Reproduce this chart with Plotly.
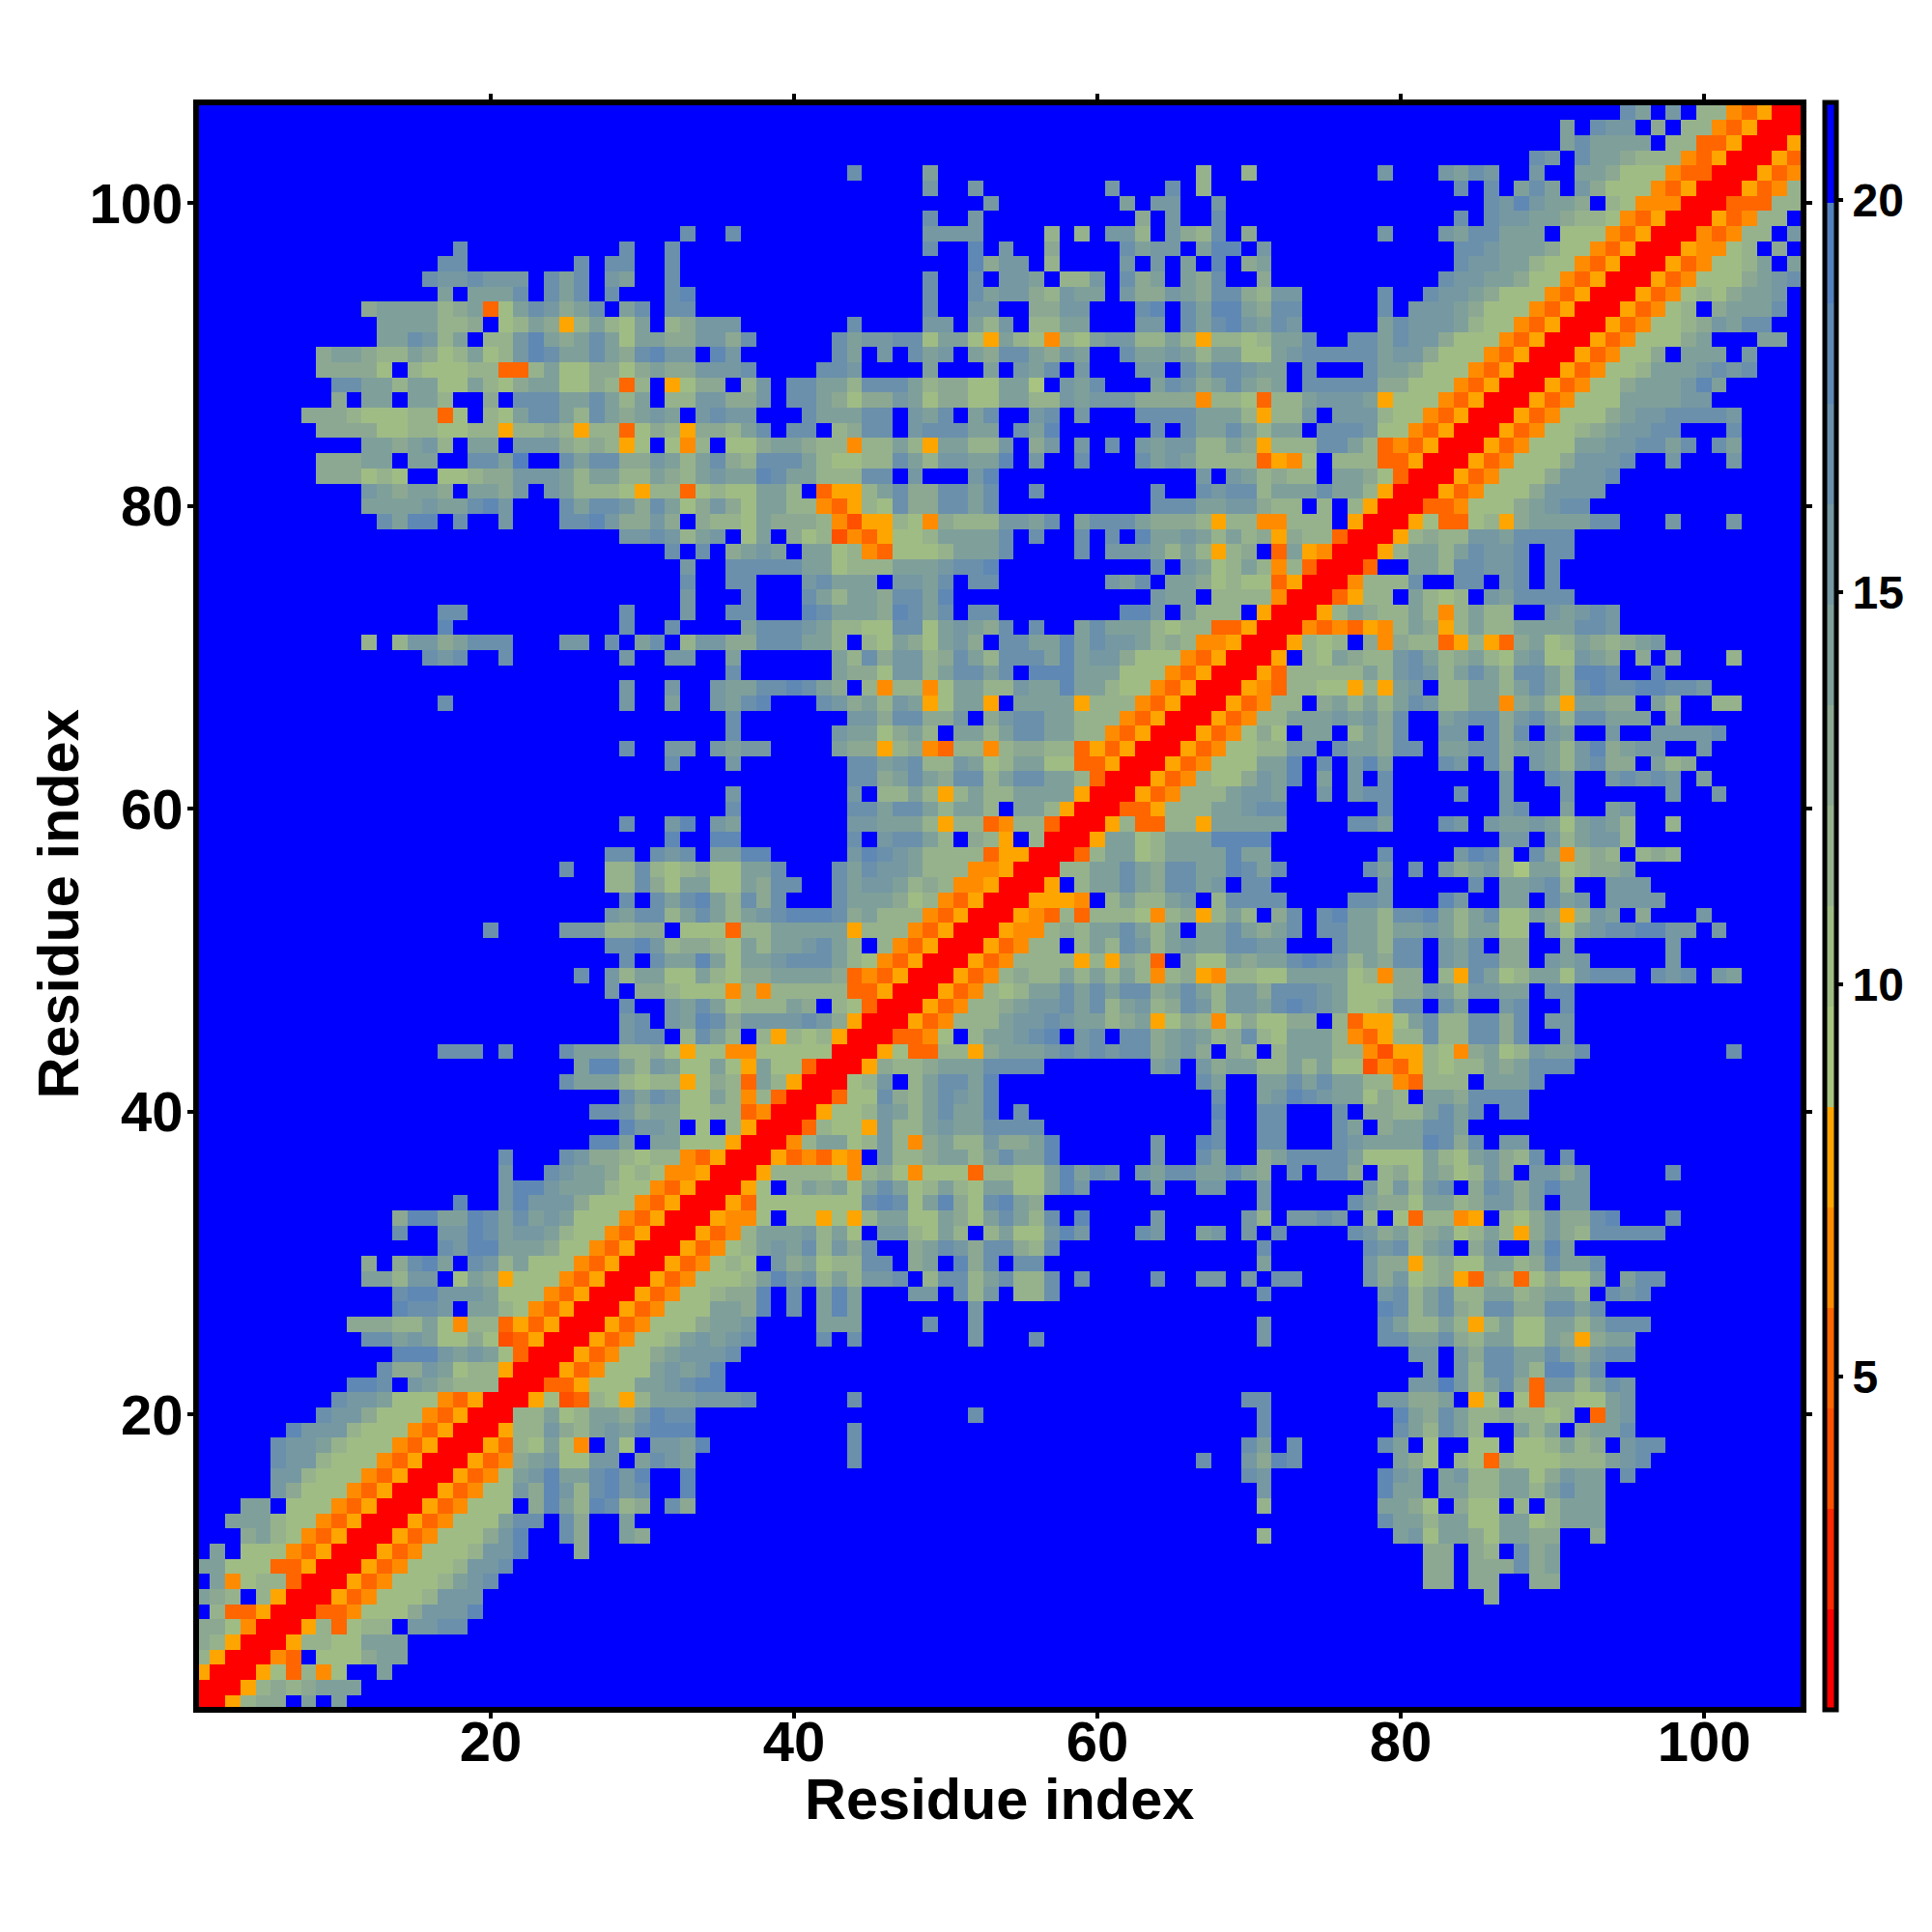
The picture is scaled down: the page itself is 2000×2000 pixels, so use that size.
import plotly.graph_objects as go

residues = list(range(1, 107))
band_values = {".": 20.6, "r": 1.4, "q": 2.7, "p": 3.95, "O": 5.2, "o": 6.5, "a": 7.8,
               "1": 9.1, "2": 10.4, "3": 11.7, "4": 12.9, "5": 14.2, "6": 15.5, "7": 16.8, "8": 18.1, "9": 19.3}
band_colors = ["#ff0000", "#ff2800", "#ff5000", "#ff6600", "#ff8c00", "#ffa500",
               "#a8c480", "#a0bc85", "#96b28d", "#8ca892", "#7fa09a", "#7598a3", "#6a90ac", "#5f88b5", "#5480be", "#0000ff"]
tick_vals = [20, 40, 60, 80, 100]
cbar_ticks = [5, 10, 15, 20]
axis_title = "Residue index"

# upper-left half of the symmetric map: y -> "x_start:cells ..."
rows = {
106: "95:75.6.33oOarr",
105: "91:5.766.4.33oOarr",
104: "91:575555.33OOarr",
103: "89:76.7554333oOarr",
102: "44:7 49:5 67:3 70:3 79:6 83:6576 89:6..554222oOOrr",
101: "49:6 52:6 61:6 65:7 67:3 84:7.7.575.64222oOarr",
100: "53:6 62:5 64:66 68:6 86:7686554.32ooorr",
99: "49:7 52:6 63:4 65:6 68:7 84:7.76655433 94:2oOarr",
98: "33:7 36:7 49:6666 57:3 59:3 61:663 65:6437 70:4 79:6 83:6577555.222oOarr",
97: "18:7 29:7 32:7 49:7 52:8 54:6 57:4 62:7566.588.6 84:7765554 91:22oOarr",
96: "17:77 26:7 28:77 32:7 52:8466 57:3 62:6.6.5.8.45 84:76655322 92:oOarr",
95: "16:7667666 24:757 28:65 32:7 49:7 52:7.665.336 62:745.547 71:4 83:76655422 91:oOarr",
94: "17:5.5557 24:757 28:7 32:78 49:7 52:756643655 62:6446547743 72:66 79:7 82:76654222 90:oOarr",
93: "12:45555345O2576457. 29:57 32:77 49:7 52:66 56:4466 63:78.758854 72:77 79:7 81:66654222oOarr",
92: "13:5555334.2354a353 29:25.34666 44:7 49:66 52:536.3355 63:66.757865 72:76 79:576665322oOarr",
91: "13:557635.33685457 28:5255446647 43:756677255 52:2a532o32566 63:3353a33235 73:57..7757664222oOarr",
90: "9:45543354235236875575 29:4786 6.86 43:75.6.7 49:56.54775465 61:.7556535522 72:5677777566 82:4222oOarr",
89: "9:44442.322233OO355 25:22442 30:45446667 42:776 49:5 53:5.657.6 63:66.75776 70:65 72:5.7...7 79:554222oOarr",
88: "10:7755355225 3 2 4 5 5 2 2 4 3 O 3.a 2 4 4. 37:3 6.7 7 5 5 3 7 7 7 5 3 4 4 2 2 5 5 1.6 5 7...5 7 6 4 5 7 5 4 5.7 7 7 7 7 4 4 2 2 2 o O a r r",
87: "10:4.55.553..4.777 25:5 5 7 5 3 5.3 3 6 6 4 4 6.7 7 5 4 2 4 4 6 5 2 4 4 2 2 5 5 3 3 6 5 6 6 6 4 4 4 4 o 3 3 2 O 3 3 5 6 6 6 5 a 2 2 2 o O a r r",
86: "8:44432223 3O2.32577537 5 4 5 6 5.6 7 6 6...7 5 5 5 7 7.6 5 7.5 7..6 7.6...7 7 7 7 5 5 5 3 a 3 3 6.6 6 6 3 2 2 o O a r r",
85: "9:444422332233 a 3 3 4 3 a 3 3 O 2 4 3 a 4 4 3 5 7.7 7.3 4 7 7.6 7 7 7 5 5.7 5 8......7.7 5 5 7 5 3 5 5.7 7 7 6 2 2 o O a r r",
84: "12:5 5 4 5 6 3.5 5.6 6 6 4 3 4 3 a 2.2 o 3.2 2 4 5 5 4 3 3 o 3 3 5 3 a 5 5 3 3 6.4 6.6.7.6 5 6 6 3 3 5 4 a 3 3 3 7 7 5 3 O o O a r r",
83: "9:4 4 4 5 5.5 5..7 7 5 9..7 5 7 7 4 4 6 5 3 5 7 4 3 7 7 7 5 3 2 2 3 3 7 5 3 6 6 5 5 8.6..7...7 5 6 5 3 3 3 3 O a o 2.3 3 3 O O a r r",
82: "9:4 4 4 2 3 2..2 2 3 4 4 6 6 6 5 3 5 5 3 3 5 4 3 5 6 5 5 8 7 5 5 3 3 3 7 7.6...6 8 67:6.6 5 3 4 3 3.5 5 4 2 O r r",
81: "12:6 5 4 5 5 4.5 5 4 6.6 5 3 3 3 2 a 3 3 O 2 3 2 2 5 5 3.O a a 3 5 7 4 4 7 7 5 7..7 64:7..7 6 7 7 3 5 5 5 7 5 5 3 a r r",
80: "12:5 5 5 5 6 5 5 7 8 6...7 5 7 7 6 4 7 5 2 4 6 4 2 5 5 3 3 o O a 3 2 7 4 4 7 7 5 7 64:7 7 7 5 5 6 6 4 3 3.3.3 a r r",
79: "13:7 5 8 8.7..6...7 7 8 6 4 4 6 4.4 3 3 2 5 4 4 4 3 o p a a 3 2 o 4 3 3 3 6 6 5 7.5 7 7 7 5 4 4 4 3 a 3 3 o o 3 3 3.a r r",
78: "29:6 6 7 6 3 5 6.2 5.4 2 3 p o O a 2 2 3 5 5 5 5 7.7..7.7.8 5 5 6 5 3 5 3 4 a 4 3 3 O r r",
77: "32:7.7.4 5 6 5.5 5 2 3 o O 2 2 2 3 5 5 5 7 59:7.6 6 6 5 3 5 3 a 3 4.O 5 a o r r",
76: "33:6 36:7 7 7 7 7 5 5 2 3 3 3 5 5 5 6 7 7 8 64:7.6 5 2 3 5 3 o 3 O r r",
75: "33:7 36:7 7 41:6 7 5 5 5.6 6 5 7.7 7 61:6 5 7.5 5 4 2 3 2 2 O a r r",
74: "33:6 37:7 41:7 5 3 5 5 4 7 7 5 8 64:6 5 5.3 3 3 3 o r r",
73: "17:77 29:7 33:6 36:7 7 41:8 7 5 5 5 4 8 7 5 7.7 7 62:8 8 6.5 3 3 3.a r r",
72: "17:8 29:7 32:7 37:5 7 7 7 6 5 3 3 2 2 7 7 2 5 6 5 4 7.7..5 7 5 5 5 3 2 3 3 O O a r r",
71: "12:3 14:36645777 25:66 28:7.57.366 36:4477755 3.3 2 5 4 2 5 6 4.7 7 5 5 8 5 7 6 6 5 3 4 3 o o a r r",
70: "16:767 21:7 29:6 32:66 36:5 43:5 3 7 4 6 6 3 4 7 5 3 7 7 7 5 8 5 6 6 4 2 2 2 o O a r r",
69: "36:7 43:5 4 4 2 6 6 3 5 7 7 5 7.8 8 8 5 5 5 2 2 2 o O a r r",
68: "29:6 32:6 35:6 5 5 7 7 8 7 5 4.3 o 3 3 o 2 5 5 3 3 6 5 5 8 5 5 3 2 2 o O a r r",
67: "17:7 29:6 32:5 35:6 5 7 8 42:7 6 4 5 3 6 5 a 2 5 5 a.5 5 5 5 a 3 3 3 o O a r r",
66: "36:7 44:6 6 4 7 7 4 4 6.4 6 7 7 5 5 3 3 3 o O a r r",
65: "36:7 43:6 5 5 2 4 5 3.5 5 3 5 7 7 5 5 3 3 o O a r r",
64: "29:7 32:66 35:6 5 6 6 43:5 4 4 a 3 4 o O 3 3 o 3 4 4 3 3 O a O a r r",
63: "32:7 36:6 44:7 7 5 6 7 3 3 6 5 2 3 5 5 2 2 O O a r r",
62: "44:7 7 4 5 7 5 4 7 7 3 5 7 7 5 5 3 O r r",
61: "36:6 44:6.3 3 5 3 a 3 5 3 3 5 5 5 5 a r r",
60: "36:7 44:7 7 5 7 7 5 3 5 5 3.5 5 3 a r r",
59: "29:7 32:68 35:6 5 44:6 6 5 5 5 3 a 3 3 O o 3 3 O r r",
58: "32:8 35:8 8 44:7.6 7 7 5 3.4 3 a.3 r r",
57: "28:77 31:7 6 7 35:5 5 8 8 44:6 8 7 6 5 3 3 3 3 O a a r r",
56: "25:7 28:3 3 7 3 2 3 4 2 2 5 5 7 43:7 5 7 6 6 5 3 3 3 o o a r r",
55: "28:3 3 7 4 2 5 5 2 2 5 4 7 7 43:7 5 6 6 5 3 4 3 o o a r r",
54: "29:7.7 5 7 8 5 3 7 4 7 43:7 5 5 5 4 2 3 o O a r r",
53: "28:6 5 7 7 3 5 7 5 3 5 6 7 8 8 8 7 4 5 3 3 3 o O a r r",
52: "20:7 25:666 28:3 3 4 4.2 2 2 O 3 3 5 5 5 5 5 a 3 3 3 o O a r r",
51: "28:7 7 8 6 3 4 4 3 2 5 3 5 5 6 7 5 3.3 o O a r r",
50: "29:7.7 5 5 8 5 2 5 5 6 7 7 7 5 3 2 o O a r r",
49: "26:7 28:6 3 5 5 2 2 5 3 2 4 4 5 5 5 5 4 O o O a r r",
48: "28:6.4 4 3 2 2 2 o 3 o 3 3 3 3 3 O O a r r",
47: "29:7 32:6 5 7 5 2 3 3 3 5 4.3 2 O r r",
46: "29:6 7.6 5 8 7 4 6 6 6 6 7 6 4 a r r",
45: "29:6 7 7.3 7 5 3.3 a 3 2 3 a r r",
44: "17:777 21:7 25:7 5 5 5 3 3 4 2 a 2 2 o o 2 2 2 2 2 r r",
43: "26:5 8 8 5 3 6 5 2 2 5 2 a 5 2 2 O r r",
42: "25:7 5 5 5 3 2 3 3 a 2 4 3 O 5 3 a r r",
41: "29:7 5 7 6 2 2 5 3 o 3 O r r",
40: "27:7 7 6 4 5 5 2 2 3 3 O o r r",
39: "29:8 6 6 5.2.3 a r r",
38: "27:8 8 5.5 5 2 2 2 a r r",
37: "21:7 25:7 6 4 4 3 2 3 3 o O a r r",
36: "21:6..7 6 5 5 4 2 3 2 o o a r r",
35: "21:6 8 8 6 5 5 5 3 2 2 o O a r r",
34: "18:8 21:6 8 6 6 6 4 2 2 2 o O a r r",
33: "14:4 8 8 5 5 8 7 5 7 5 6 5 2 2 2 o O a r r",
32: "14:7 17:6 6 8 7 5 6 6 5 3 2 2 o O a r r",
31: "17:7 6 8 8 5 5 5 4 2 2 o O a r r",
30: "12:4.4 7 8 5.7 6 3 5 2 2 2 o O a r r",
29: "12:5 5 3 6 6.2 5 4 a 2 2 2 o O a r r",
28: "14:7 8 8 6 6 6 5 2 2 2 o O a r r",
27: "14:8 7 7 6.5 5 3 2 o O a r r",
26: "11:4 4 4 3 3 5 2 o 3 3 O a O a r r",
25: "12:7 7 5 6 5 2 2 4 2 p O a r r",
24: "14:8 8 8 6 5 6 5 2 O r r",
23: "13:7 4 4 6 5 2 3 3 a r r",
22: "11:8 8 7.6 5 4 3 3 3 r r",
21: "10:7 6 6 5 2 2 2 o O a r r",
20: "9:7 6 6 4 2 2 2 o O a r r",
19: "7:8 6 6 6 3 2 2 2 o O a r r",
18: "6:7 6 6 5 3 2 2 2 o O a r r",
17: "6:7 6 6 3 2 2 2 o O a r r",
16: "6:6 6 3 2 2 2 o O a r r",
15: "6:6 4 2 2 2 o O a r r",
14: "4:5 5.2 2 2 o O a r r",
13: "3:5 5 5 3 2 2 o O a r r",
12: "4:4 5 3 2 o O a r r",
11: "2:5 4:2 2 2 o O a r r",
10: "1:5 5 2 2 2 O O a r r",
9: "2:5 o 2 3 3 O r r",
8: "1:5 4 3.3 a r r",
7: "2:3 O O a r r",
6: "1:4 4 2 o r r",
5: "1:4 3 a r r",
4: "1:3 a r r",
3: "1:a r r",
2: "1:r r",
1: "1:r",
}


def parse(spec):
    """Turn a 'start:cells start:cells' description into {x: cell}."""
    out = {}
    x = None
    for token in spec.split():
        if ":" in token:
            start, cells = token.split(":")
            x = int(start)
        else:
            cells = token
        for ch in cells:
            out[x] = ch
            x += 1
    return out


z = [[band_values["."] for _ in residues] for _ in residues]
for y, spec in rows.items():
    for x, ch in parse(spec).items():
        if x <= y:
            z[y - 1][x - 1] = band_values[ch]
            z[x - 1][y - 1] = band_values[ch]

zmin, zmax = 0.75, 21.25
n = len(band_colors)
colorscale = []
for i, c in enumerate(band_colors):
    colorscale.append([i / n, c])
    colorscale.append([(i + 1) / n, c])

bold = dict(family="Liberation Sans", color="black", weight="bold")
common = dict(tickvals=tick_vals, ticks="outside", ticklen=6, tickwidth=4,
              tickcolor="black", showline=True, linewidth=6, linecolor="black", mirror="ticks",
              showgrid=False, zeroline=False, tickfont=dict(size=58, **bold))
xaxis = dict(range=[0.77, 106.36], ticklabelstandoff=-26, **common)
yaxis = dict(range=[0.70, 106.47], ticklabelstandoff=-7, **common)

fig = go.Figure(go.Heatmap(
    x=residues, y=residues, z=z, zmin=zmin, zmax=zmax, colorscale=colorscale,
    colorbar=dict(x=1.0152, xanchor="left", y=0.5, yanchor="middle", len=1.0038, lenmode="fraction",
                  thickness=12, thicknessmode="pixels", xpad=0, ypad=0,
                  outlinewidth=5, outlinecolor="black", borderwidth=0,
                  tickvals=cbar_ticks, ticks="outside", ticklen=5, tickwidth=4, tickcolor="black",
                  tickfont=dict(size=48, **bold)),
))
fig.add_annotation(text=axis_title, xref="paper", yref="paper", x=0.4997, y=-0.0575, showarrow=False,
                   xanchor="center", yanchor="middle", font=dict(size=59.5, **bold))
fig.add_annotation(text=axis_title, xref="paper", yref="paper", x=-0.0879, y=0.501, showarrow=False,
                   xanchor="center", yanchor="middle", textangle=-90, font=dict(size=59.5, **bold))
fig.update_layout(width=2000, height=2000, autosize=False, paper_bgcolor="white", plot_bgcolor="white",
                  margin=dict(l=197.7, r=144, t=101, b=241.3, pad=0), xaxis=xaxis, yaxis=yaxis)
fig.write_html("out.html")
